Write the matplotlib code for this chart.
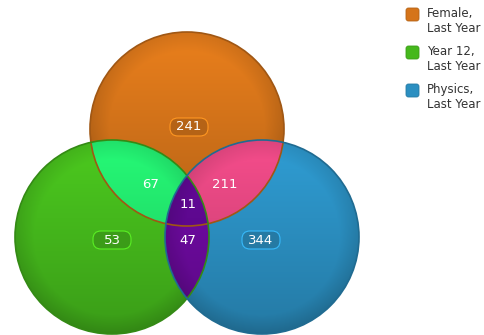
import matplotlib.pyplot as plt
import numpy as np
from matplotlib.patches import Circle, FancyBboxPatch

# set names and region counts
sets = ['Female,\nLast Year', 'Year 12,\nLast Year', 'Physics,\nLast Year']
set_colors = ['#d5741a', '#45b81c', '#2b8fc1']
# regions: only F, only Y, only P, F&Y, F&P, Y&P, all three
region_keys = ['100', '010', '001', '110', '101', '011', '111']
region_counts = [241, 53, 344, 67, 211, 47, 11]
region_colors = {'110': '#22e46c', '101': '#e0467f', '011': '#6b0a9c', '111': '#5e0890'}

W, H = 484, 335
fig = plt.figure(figsize=(W / 100, H / 100), dpi=100)
ax = fig.add_axes([0, 0, 1, 1])
ax.set_xlim(0, W)
ax.set_ylim(H, 0)
ax.axis('off')

centers = [(187, 129), (112, 237), (262, 237)]
r = 97

yy, xx = np.mgrid[0:H, 0:W] + 0.5
inside = [((xx - cx) ** 2 + (yy - cy) ** 2) <= r ** 2 for cx, cy in centers]


def to_rgb(h):
    h = h.lstrip('#')
    return np.array([int(h[i:i + 2], 16) / 255 for i in (0, 2, 4)])


img = np.ones((H, W, 4))
img[..., 3] = 0
for key in region_keys:
    mask = np.ones((H, W), bool)
    for i, bit in enumerate(key):
        mask &= inside[i] if bit == '1' else ~inside[i]
    img[mask, :3] = to_rgb(region_colors.get(key, set_colors[key.index('1')]))
    img[mask, 3] = 1

# glossy shading: lighter top, darker bottom and rim (last circle drawn wins)
shade = np.ones((H, W))
for (cx, cy), ins in zip(centers, inside):
    d = np.sqrt((xx - cx) ** 2 + (yy - cy) ** 2) / r
    s = 1.1 - 0.25 * (yy - cy + r) / (2 * r) - 0.12 * np.clip(d - 0.8, 0, 1) / 0.2
    shade = np.where(ins, s, shade)
img[..., :3] = np.clip(img[..., :3] * shade[..., None], 0, 1)
ax.imshow(img, extent=(0, W, H, 0), interpolation='bilinear')

for (cx, cy), c in zip(centers, set_colors):
    ax.add_patch(Circle((cx, cy), r, fill=False, ec=to_rgb(c) * 0.75, lw=1.2))

label_pos = {'100': (189, 127), '010': (112, 240), '001': (261, 240),
             '110': (151, 184), '101': (225, 184), '011': (188, 241), '111': (188, 204)}
for key, n in zip(region_keys, region_counts):
    x, y = label_pos[key]
    if key.count('1') == 1:
        base = to_rgb(set_colors[key.index('1')])
        ax.add_patch(FancyBboxPatch((x - 19, y - 9), 38, 18,
                                    boxstyle='round,pad=0,rounding_size=8',
                                    fc=base * 0.85, ec=np.clip(base * 1.3, 0, 1), lw=0.8))
    ax.text(x, y, str(n), ha='center', va='center', color='white', fontsize=9.5)

# legend
for i, (name, c) in enumerate(zip(sets, set_colors)):
    y0 = 14 + i * 38
    ax.add_patch(FancyBboxPatch((406, y0 - 6), 13, 13, boxstyle='round,pad=0,rounding_size=2.5',
                                fc=c, ec=to_rgb(c) * 0.85, lw=0.6))
    ax.text(427, y0 - 7, name, ha='left', va='top', fontsize=8.5, color='#333333',
            linespacing=1.25)

fig.savefig('out.png', dpi=100)
